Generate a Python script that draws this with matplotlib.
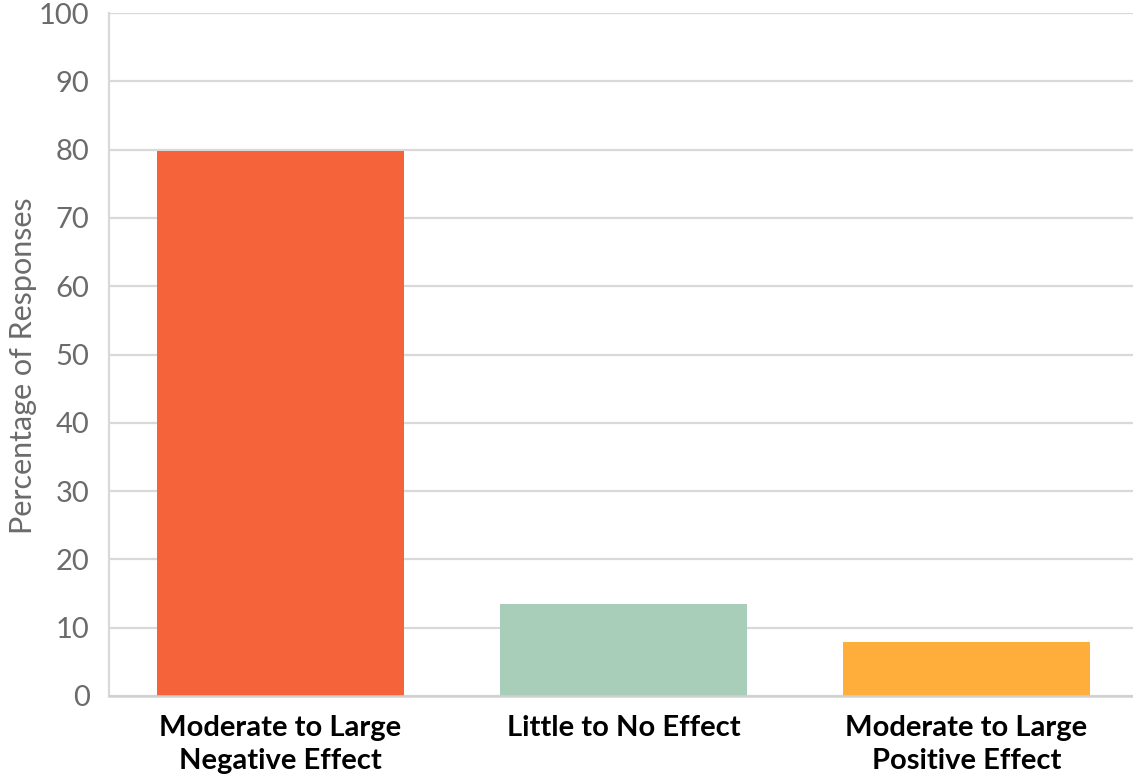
import matplotlib
matplotlib.use("Agg")
import matplotlib.pyplot as plt

categories = ["Moderate to Large\nNegative Effect", "Little to No Effect",
              "Moderate to Large\nPositive Effect"]
values = [79.8, 13.5, 7.9]
colors = ["#F5633A", "#A8CDB8", "#FFAD3B"]
y_ticks = list(range(0, 101, 10))

plt.rcParams["font.family"] = ["Lato", "DejaVu Sans"]

fig = plt.figure(figsize=(11.33, 7.74), dpi=100)
ax = fig.add_axes([109 / 1133, 78 / 774, 1029 / 1133, 683 / 774])

x = range(len(categories))
ax.bar(x, values, width=0.72, color=colors, zorder=3)

ax.set_xlim(-0.5, 2.5)
ax.set_ylim(0, 100)
ax.set_yticks(y_ticks)
ax.set_yticklabels([str(t) for t in y_ticks], fontsize=21, color="#6B6B6B")
ax.set_xticks(list(x))
ax.set_xticklabels(categories, fontsize=21, fontweight="bold", color="black",
                   linespacing=1.3)
ax.tick_params(axis="both", length=0)
ax.tick_params(axis="y", pad=14)
ax.tick_params(axis="x", pad=14)

ax.grid(axis="y", color="#D9D9D9", linewidth=1.6, zorder=0)
for side in ["top", "right"]:
    ax.spines[side].set_visible(False)
ax.spines["left"].set_color("#D9D9D9")
ax.spines["left"].set_linewidth(1.6)
ax.spines["bottom"].set_color("#D0D0D0")
ax.spines["bottom"].set_linewidth(1.8)
ax.spines["bottom"].set_zorder(4)

ax.set_ylabel("Percentage of Responses", fontsize=22, color="#6B6B6B")
ax.yaxis.set_label_coords(-72 / 1029, 0.483)

fig.savefig("out.png", dpi=100, facecolor="white")
